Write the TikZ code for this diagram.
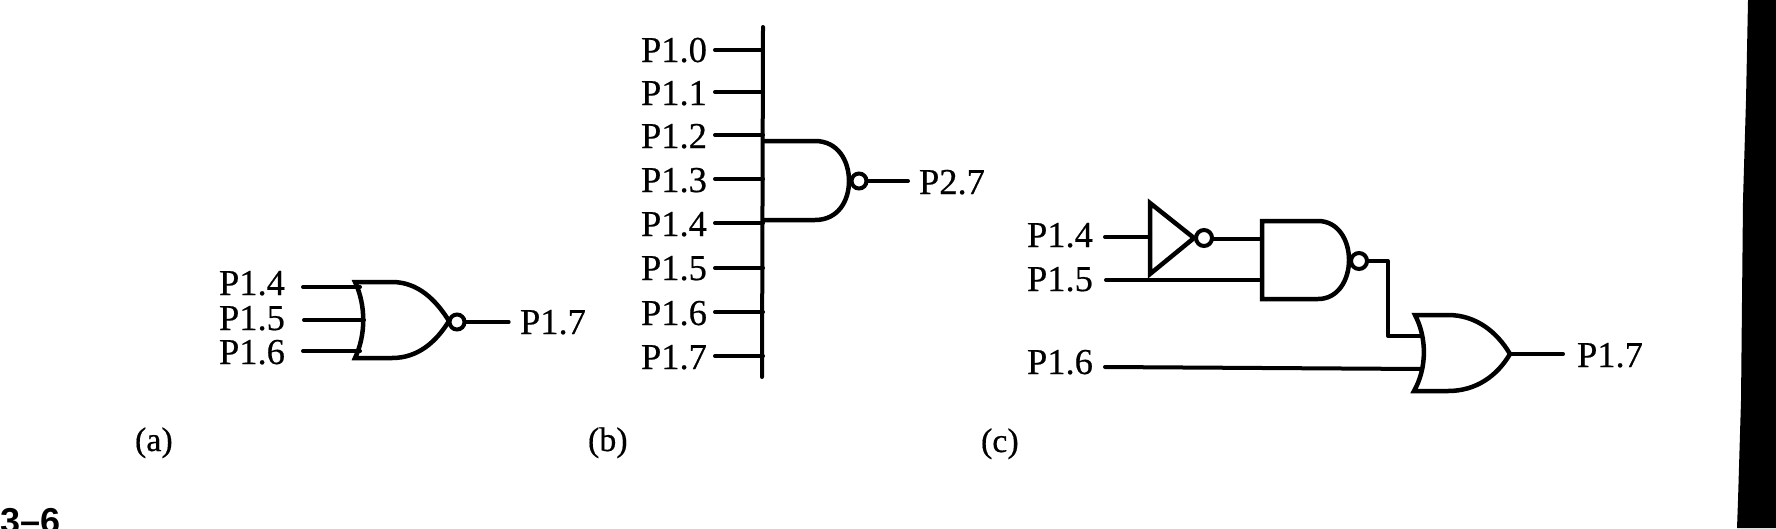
\documentclass[tikz,border=0pt]{standalone}
\usepackage{fontspec}
\setmainfont{Liberation Serif}
\newfontfamily\capfont{Liberation Sans}
\newfontfamily\pinfont[FakeBold=0.5]{Liberation Serif}
\tikzset{
  x=1pt,y=-1pt,
  pin/.style={anchor=base west,inner sep=0pt,outer sep=0pt,font=\pinfont\fontsize{36.5}{37}\selectfont},
  sublabel/.style={anchor=base west,inner sep=0pt,outer sep=0pt,font=\pinfont\fontsize{34}{34}\selectfont},
  figno/.style={anchor=base west,inner sep=0pt,outer sep=0pt,font=\capfont\bfseries\fontsize{36}{36}\selectfont},
  wire/.style={line width=4pt,line cap=round,line join=miter},
  thinwire/.style={line width=3.2pt,line cap=round},
  body/.style={line width=4.5pt,line join=miter},
  bubble/.style={circle,draw,line width=4pt,fill=white,inner sep=0pt,outer sep=0pt,minimum size=15pt},
}
\begin{document}
\begin{tikzpicture}
\useasboundingbox (0,0) rectangle (1776,528);
\fill[white] (0,0) rectangle (1776,528);
% scanned page edge
\fill[black] (1748,0) -- (1746,100) -- (1743,200) -- (1742,300) -- (1741,400) -- (1738,500) -- (1737,528) -- (1776,528) -- (1776,0) -- cycle;

% ---------- (a) ----------
\node[pin] (a4) at (219,295) {P1.4};
\node[pin] (a5) at (219,330) {P1.5};
\node[pin] (a6) at (219,364) {P1.6};
\coordinate (a4s) at (303,287); \coordinate (a4e) at (360,287);
\coordinate (a5s) at (304,320); \coordinate (a5e) at (364,320);
\coordinate (a6s) at (303,351); \coordinate (a6e) at (360,351);
\draw[wire] (a4s) -- (a4e);
\draw[wire] (a5s) -- (a5e);
\draw[wire] (a6s) -- (a6e);
\coordinate (agt) at (355,282); \coordinate (agb) at (355,358); \coordinate (atip) at (449,321);
\draw[body] (agt) .. controls (366,305) and (366,335) .. (agb)
  -- (392,358) .. controls (418,358) and (436,342) .. (atip)
  .. controls (436,300) and (418,282) .. (392,282) -- cycle;
\node[bubble] (ab) at (457,322) {};
\coordinate (aout) at (509,322);
\draw[thinwire] (ab) -- (aout);
\node[pin] (a7) at (520,334) {P1.7};
\node[sublabel] (la) at (135,451) {(a)};

% ---------- (b) ----------
\coordinate (bust) at (763,27); \coordinate (busb) at (762,377);
\draw[wire] (bust) -- (busb);
\foreach \n/\ly/\by in {0/62/50,1/105/92,2/148/135,3/192/179,4/236/223,5/280/268,6/325/312,7/369/356}{
  \node[pin] (b\n) at (641,\ly) {P1.\n};
  \coordinate (bs\n) at (715,\by);
  \coordinate (be\n) at (763,\by);
  \draw[wire] (bs\n) -- (be\n);
}
\coordinate (bgt) at (763,141); \coordinate (bgb) at (763,220); \coordinate (btip) at (849,181);
\draw[body,line cap=butt] (bgt) -- (815,141) .. controls (838,141) and (849,161) .. (btip)
  .. controls (849,201) and (838,220) .. (815,220) -- (bgb);
\node[bubble] (bb) at (859,181) {};
\coordinate (bout) at (908,181);
\draw[wire] (bb) -- (bout);
\node[pin] (p27) at (919,194) {P2.7};
\node[sublabel] (lb) at (588,451) {(b)};

% ---------- (c) ----------
\node[pin] (c4) at (1027,247) {P1.4};
\node[pin] (c5) at (1027,291) {P1.5};
\node[pin] (c6) at (1027,374) {P1.6};
\coordinate (c4s) at (1105,237); \coordinate (c4e) at (1150,237);
\draw[wire] (c4s) -- (c4e);
\coordinate (it) at (1150,203); \coordinate (ib) at (1150,274); \coordinate (itip) at (1194,238);
\draw[body] (it) -- (itip) -- (ib) -- cycle;
\node[bubble,minimum size=16pt] (ibub) at (1204,238) {};
\coordinate (ngt) at (1262,221); \coordinate (ngb) at (1262,299); \coordinate (ntip) at (1349,260);
\coordinate (nin1) at (1262,239); \coordinate (nin2) at (1262,280);
\draw[wire] (ibub.east |- nin1) -- (nin1);
\coordinate (c5s) at (1106,280);
\draw[wire] (c5s) -- (nin2);
\draw[body] (ngt) -- (1318,221) .. controls (1338,221) and (1349,240) .. (ntip)
  .. controls (1349,280) and (1338,299) .. (1318,299) -- (ngb) -- cycle;
\node[bubble,minimum size=16pt] (nbub) at (1359,261) {};
\coordinate (ocor1) at (1388,261); \coordinate (ocor2) at (1388,336); \coordinate (oin1) at (1422,336);
\draw[wire,line join=round] (nbub) -- (ocor1) -- (ocor2) -- (oin1);
\coordinate (c6s) at (1105,367); \coordinate (oin2) at (1422,369);
\draw[wire] (c6s) -- (oin2);
\coordinate (ogt) at (1415,315); \coordinate (ogb) at (1414,391); \coordinate (otip) at (1510,354);
\draw[body] (ogt) .. controls (1427,338) and (1427,368) .. (ogb)
  -- (1448,391) .. controls (1476,391) and (1497,376) .. (otip)
  .. controls (1497,332) and (1476,315) .. (1448,315) -- cycle;
\coordinate (cout) at (1563,354);
\draw[wire] (otip) -- (cout);
\node[pin] (c7) at (1577,367) {P1.7};
\node[sublabel] (lc) at (981,452) {(c)};

% figure number
\node[figno] (fig) at (0,533) {3–6};
\end{tikzpicture}
\end{document}
